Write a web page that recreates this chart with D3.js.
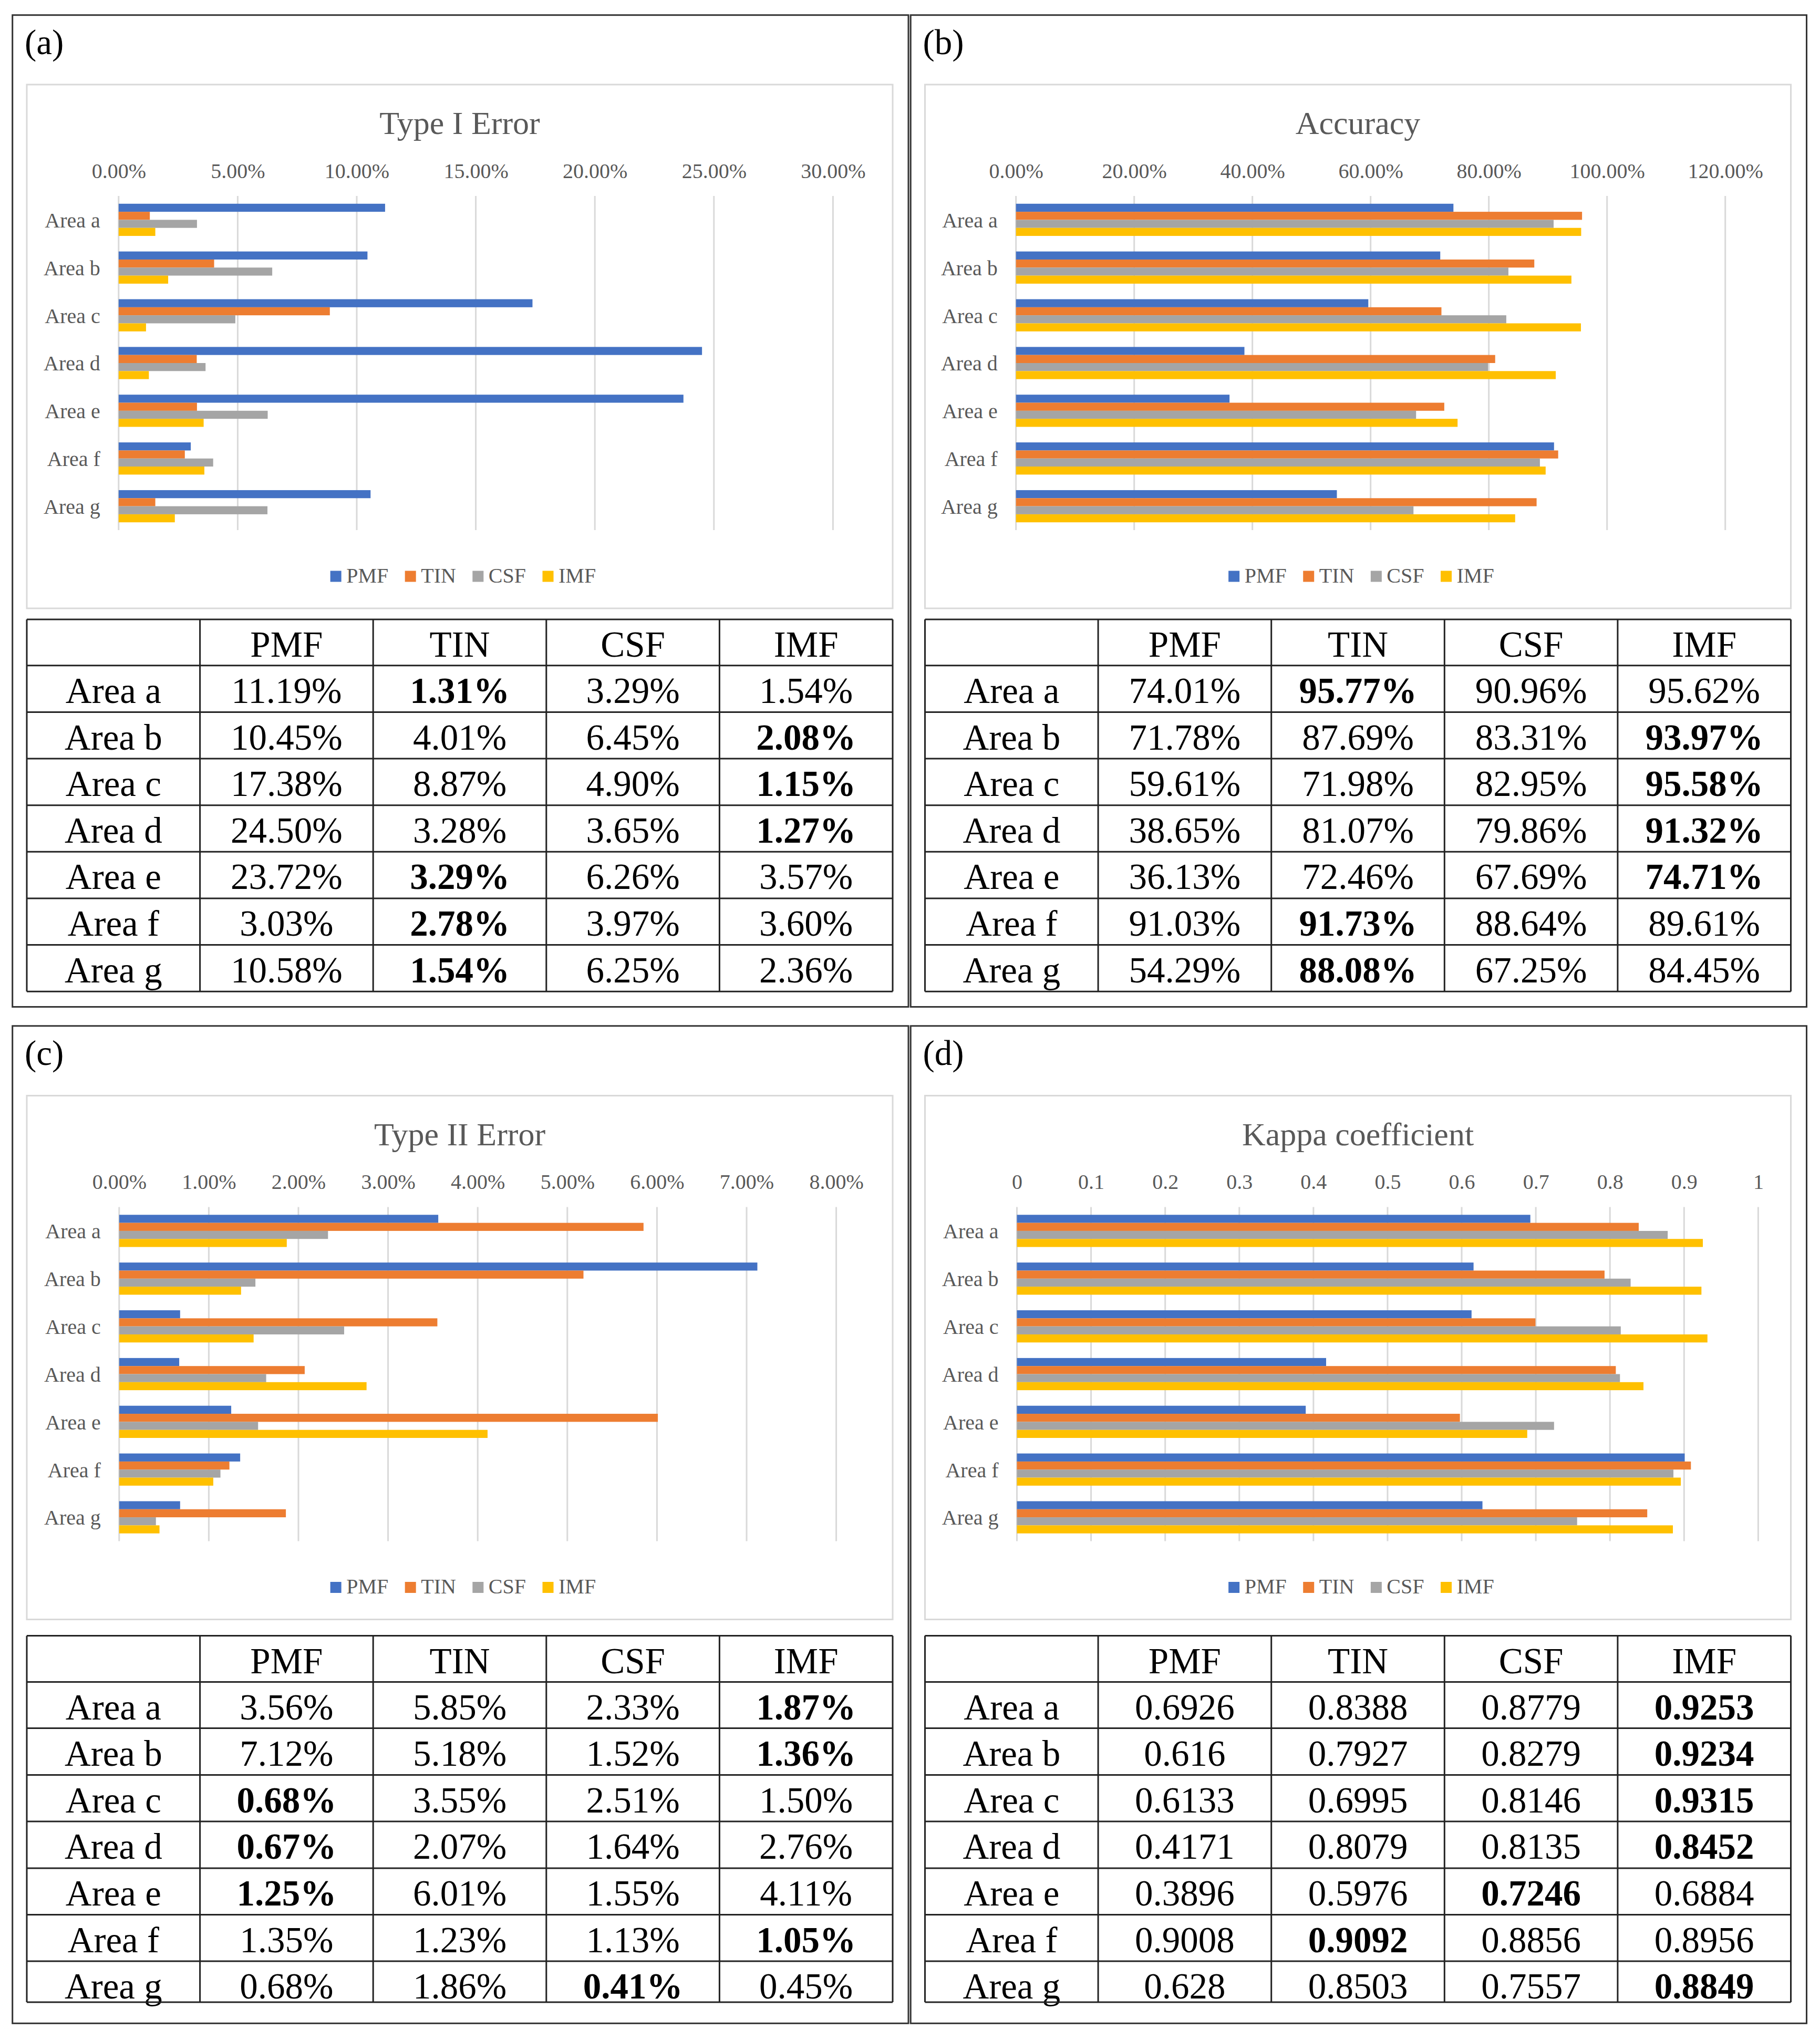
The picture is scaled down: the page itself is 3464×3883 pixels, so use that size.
<!DOCTYPE html>
<html><head><meta charset="utf-8">
<script src="https://cdn.jsdelivr.net/npm/d3@7"></script>
<style>body{margin:0;background:#fff}svg{display:block}</style>
</head><body><svg id="c" width="3464" height="3883"></svg>
<script>
// ---------- DATA ----------
const areas = ["Area a","Area b","Area c","Area d","Area e","Area f","Area g"];
const methods = ["PMF","TIN","CSF","IMF"];
const methodColors = ["#4472C4","#ED7D31","#A5A5A5","#FFC000"];

// (a) Type I Error (%)
const typeI_PMF = [11.19,10.45,17.38,24.50,23.72,3.03,10.58];
const typeI_TIN = [1.31,4.01,8.87,3.28,3.29,2.78,1.54];
const typeI_CSF = [3.29,6.45,4.90,3.65,6.26,3.97,6.25];
const typeI_IMF = [1.54,2.08,1.15,1.27,3.57,3.60,2.36];
const typeI_bold = [1,3,3,3,1,1,1];
const typeI_ticks = [0,5,10,15,20,25,30];

// (b) Accuracy (%)
const acc_PMF = [74.01,71.78,59.61,38.65,36.13,91.03,54.29];
const acc_TIN = [95.77,87.69,71.98,81.07,72.46,91.73,88.08];
const acc_CSF = [90.96,83.31,82.95,79.86,67.69,88.64,67.25];
const acc_IMF = [95.62,93.97,95.58,91.32,74.71,89.61,84.45];
const acc_bold = [1,3,3,3,3,1,1];
const acc_ticks = [0,20,40,60,80,100,120];

// (c) Type II Error (%)
const typeII_PMF = [3.56,7.12,0.68,0.67,1.25,1.35,0.68];
const typeII_TIN = [5.85,5.18,3.55,2.07,6.01,1.23,1.86];
const typeII_CSF = [2.33,1.52,2.51,1.64,1.55,1.13,0.41];
const typeII_IMF = [1.87,1.36,1.50,2.76,4.11,1.05,0.45];
const typeII_bold = [3,3,0,0,0,3,2];
const typeII_ticks = [0,1,2,3,4,5,6,7,8];

// (d) Kappa coefficient
const kappa_PMF = [0.6926,0.616,0.6133,0.4171,0.3896,0.9008,0.628];
const kappa_TIN = [0.8388,0.7927,0.6995,0.8079,0.5976,0.9092,0.8503];
const kappa_CSF = [0.8779,0.8279,0.8146,0.8135,0.7246,0.8856,0.7557];
const kappa_IMF = [0.9253,0.9234,0.9315,0.8452,0.6884,0.8956,0.8849];
const kappa_bold = [3,3,3,3,2,1,3];
const kappa_ticks = [0,0.1,0.2,0.3,0.4,0.5,0.6,0.7,0.8,0.9,1];

// ---------- LAYOUT ----------
const FONT = "'Liberation Serif','Times New Roman',serif";
const GRAY = "#595959";
const pct = v => v.toFixed(2) + "%";
const plain = v => String(v);

const topRows = [1179,1266.8,1355.6,1444,1532.7,1621.3,1710,1798.6,1887.2];
const botRows = [3113.5,3201.5,3289.5,3378.5,3467,3556,3644.5,3733,3811];

const panels = [
  {label:"(a)", title:"Type I Error", series:[typeI_PMF,typeI_TIN,typeI_CSF,typeI_IMF], bold:typeI_bold,
   ticks:typeI_ticks, tickFmt:pct, cellFmt:pct, xmax:30, xr:[225.8,1585.4], ox:0, oy:0, frame:[28.7,1916.5], rows:topRows},
  {label:"(b)", title:"Accuracy", series:[acc_PMF,acc_TIN,acc_CSF,acc_IMF], bold:acc_bold,
   ticks:acc_ticks, tickFmt:pct, cellFmt:pct, xmax:120, xr:[224.2,1574.2], ox:1709.5, oy:0, frame:[28.7,1916.5], rows:topRows},
  {label:"(c)", title:"Type II Error", series:[typeII_PMF,typeII_TIN,typeII_CSF,typeII_IMF], bold:typeII_bold,
   ticks:typeII_ticks, tickFmt:pct, cellFmt:pct, xmax:8, xr:[226.8,1591.6], ox:0, oy:1924.5, frame:[1952.8,3851.3], rows:botRows},
  {label:"(d)", title:"Kappa coefficient", series:[kappa_PMF,kappa_TIN,kappa_CSF,kappa_IMF], bold:kappa_bold,
   ticks:kappa_ticks, tickFmt:plain, cellFmt:plain, xmax:1, xr:[226,1636.9], ox:1709.5, oy:1924.5, frame:[1952.8,3851.3], rows:botRows}
];

const svg = d3.select("#c");
svg.append("rect").attr("width",3464).attr("height",3883).attr("fill","#fff");

panels.forEach(p => {
  // panel frame
  svg.append("rect")
    .attr("x", 23.7 + p.ox).attr("y", p.frame[0])
    .attr("width", 1705.3).attr("height", p.frame[1] - p.frame[0])
    .attr("fill","none").attr("stroke","#333").attr("stroke-width",3);

  svg.append("text").attr("x", 47 + p.ox).attr("y", p.frame[0] + 74)
    .attr("font-family", FONT).attr("font-size", 67).attr("fill","#000").text(p.label);

  const g = svg.append("g").attr("transform", `translate(${p.ox},${p.oy})`);

  // chart area
  g.append("rect").attr("x",51).attr("y",161).attr("width",1648).attr("height",997)
    .attr("fill","#fff").attr("stroke","#D9D9D9").attr("stroke-width",3);

  g.append("text").attr("x",875).attr("y",255).attr("text-anchor","middle")
    .attr("font-family",FONT).attr("font-size",62).attr("fill",GRAY).text(p.title);

  const x = d3.scaleLinear().domain([0, p.xmax]).range(p.xr);
  const y = d3.scaleBand().domain(areas).range([373, 1009]).padding(0);
  const bw = y.bandwidth();
  const sub = d3.scaleBand().domain(methods).range([14.8, bw - 14.8]).padding(0);

  // gridlines
  g.append("g").selectAll("line").data(p.ticks).join("line")
    .attr("x1", d => x(d)).attr("x2", d => x(d)).attr("y1", 373).attr("y2", 1009)
    .attr("stroke","#D9D9D9").attr("stroke-width",3);

  // top axis labels
  const ax = g.append("g").attr("transform","translate(0,373)")
    .call(d3.axisTop(x).tickValues(p.ticks).tickFormat(p.tickFmt).tickSize(0).tickPadding(34.5));
  ax.select(".domain").remove();
  ax.selectAll("text").attr("font-family",FONT).attr("font-size",40).attr("fill",GRAY);

  // category axis labels
  const ay = g.append("g").attr("transform",`translate(${p.xr[0]},0)`)
    .call(d3.axisLeft(y).tickSize(0).tickPadding(35));
  ay.select(".domain").remove();
  ay.selectAll("text").attr("font-family",FONT).attr("font-size",40).attr("fill",GRAY).attr("dy","0.36em");

  // bars
  const rows = areas.map((a,i) => ({area:a, vals: methods.map((m,k) => ({m, k, v: p.series[k][i]}))}));
  const grp = g.append("g").selectAll("g").data(rows).join("g")
    .attr("transform", d => `translate(0,${y(d.area)})`);
  grp.selectAll("rect").data(d => d.vals).join("rect")
    .attr("x", x(0)).attr("y", d => sub(d.m))
    .attr("width", d => x(d.v) - x(0)).attr("height", sub.bandwidth())
    .attr("fill", d => methodColors[d.k]);

  // legend
  const lg = g.append("g");
  let cx = 0;
  const items = [];
  methods.forEach((m,k) => {
    const it = lg.append("g");
    it.append("rect").attr("x",0).attr("y",1086.5).attr("width",21).attr("height",21).attr("fill",methodColors[k]);
    const t = it.append("text").attr("x",30.5).attr("y",1108.6).attr("font-family",FONT).attr("font-size",40).attr("fill",GRAY).text(m);
    const w = 30.5 + t.node().getComputedTextLength();
    items.push({it, w});
  });
  let total = items.reduce((s,d) => s + d.w, 0) + 31.5 * (items.length - 1);
  cx = 881.4 - total/2;
  items.forEach(d => { d.it.attr("transform", `translate(${cx},0)`); cx += d.w + 31.5; });

  // table
  const tg = svg.append("g").attr("transform", `translate(${p.ox},0)`);
  const colX = d3.range(6).map(i => 51 + i * 1648/5);
  const rb = p.rows;
  const header = [""].concat(methods);
  const tableRows = [header].concat(areas.map((a,i) => [a].concat(methods.map((m,k) => p.cellFmt(p.series[k][i])))));
  tableRows.forEach((r, ri) => {
    r.forEach((txt, ci) => {
      tg.append("text").attr("x", (colX[ci] + colX[ci+1]) / 2).attr("y", rb[ri] + 71)
        .attr("text-anchor","middle").attr("font-family",FONT).attr("font-size",69).attr("fill","#000")
        .attr("font-weight", (ri > 0 && ci > 0 && p.bold[ri-1] === ci-1) ? "bold" : "normal")
        .text(txt);
    });
  });
  tg.selectAll("line.h").data(rb).join("line").attr("class","h")
    .attr("x1", colX[0]).attr("x2", colX[5]).attr("y1", d => d).attr("y2", d => d)
    .attr("stroke","#222").attr("stroke-width",3);
  tg.selectAll("line.v").data(colX).join("line").attr("class","v")
    .attr("x1", d => d).attr("x2", d => d).attr("y1", rb[0]).attr("y2", rb[rb.length-1])
    .attr("stroke","#222").attr("stroke-width",3);
});
</script></body></html>
